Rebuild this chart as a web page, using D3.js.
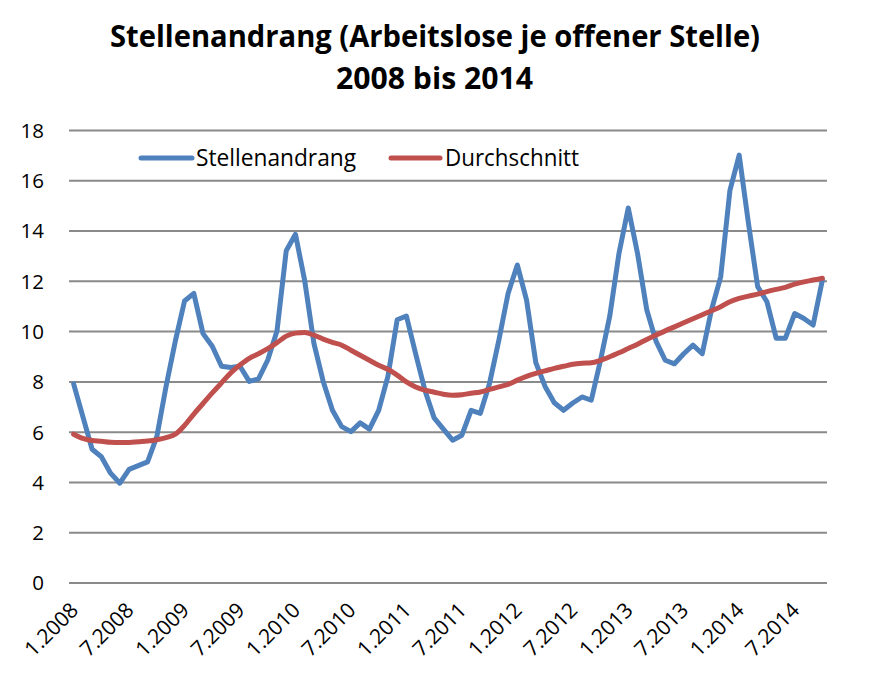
<!DOCTYPE html>
<html>
<head>
<meta charset="utf-8">
<script src="https://cdn.jsdelivr.net/npm/d3@7"></script>
<style>
  html, body { margin: 0; padding: 0; background: #fff; }
  svg { display: block; }
  text { font-family: "Open Sans", "Noto Sans", sans-serif; fill: #000; }
</style>
</head>
<body>
<svg id="chart" width="869" height="699"></svg>
<script>
// ---- data ----
const titleLines = ["Stellenandrang (Arbeitslose je offener Stelle)", "2008 bis 2014"];
const seriesNames = ["Stellenandrang", "Durchschnitt"];
const seriesColors = ["#4F81BD", "#C0504D"];

// monthly categories 1.2008 ... 10.2014
const categories = [];
for (let y = 2008; y <= 2014; y++) {
  for (let m = 1; m <= 12; m++) {
    if (y === 2014 && m > 10) break;
    categories.push(m + "." + y);
  }
}
const tickLabels = ["1.2008","7.2008","1.2009","7.2009","1.2010","7.2010","1.2011","7.2011",
                    "1.2012","7.2012","1.2013","7.2013","1.2014","7.2014"];
const yTicks = [0, 2, 4, 6, 8, 10, 12, 14, 16, 18];

const stellenandrang = [
  7.9, 6.6, 5.3, 5.0, 4.35, 3.95, 4.5, 4.65, 4.8, 5.8, 7.8, 9.6,
  11.2, 11.5, 9.9, 9.4, 8.6, 8.55, 8.6, 8.0, 8.1, 8.85, 10.0, 13.2,
  13.85, 12.0, 9.5, 8.0, 6.85, 6.2, 6.0, 6.35, 6.1, 6.85, 8.2, 10.45,
  10.6, 9.1, 7.65, 6.55, 6.1, 5.66, 5.86, 6.85, 6.73, 7.93, 9.64, 11.5,
  12.63, 11.23, 8.75, 7.8, 7.15, 6.85, 7.14, 7.38, 7.25, 8.84, 10.6, 13.1,
  14.9, 13.1, 10.85, 9.6, 8.84, 8.7, 9.1, 9.44, 9.1, 10.84, 12.16, 15.6,
  17.0, 14.3, 11.77, 11.17, 9.72, 9.72, 10.7, 10.5, 10.24, 12.03
];
const durchschnitt = [
  5.9, 5.73, 5.65, 5.62, 5.58, 5.57, 5.57, 5.6, 5.63, 5.68, 5.76, 5.9,
  6.25, 6.7, 7.12, 7.54, 7.94, 8.34, 8.65, 8.92, 9.1, 9.3, 9.54, 9.8,
  9.92, 9.94, 9.84, 9.68, 9.55, 9.44, 9.24, 9.04, 8.84, 8.64, 8.48, 8.25,
  7.98, 7.78, 7.65, 7.57, 7.49, 7.45, 7.47, 7.53, 7.58, 7.68, 7.78, 7.88,
  8.05, 8.2, 8.32, 8.42, 8.52, 8.6, 8.68, 8.72, 8.74, 8.84, 8.98, 9.14,
  9.31, 9.48, 9.67, 9.84, 10.01, 10.17, 10.33, 10.49, 10.65, 10.81, 10.97, 11.17,
  11.3, 11.39, 11.47, 11.57, 11.66, 11.74, 11.87, 11.96, 12.03, 12.1
];

// ---- layout ----
const svg = d3.select("#chart");
const plot = { left: 69, right: 827, top: 130, bottom: 582.5 };

const x = d3.scaleBand().domain(categories).range([plot.left, plot.right]).padding(0);
const xc = c => x(c) + x.bandwidth() / 2;
const y = d3.scaleLinear().domain([0, 18]).range([plot.bottom, plot.top]);

// title
const title = svg.append("g");
title.append("text")
  .attr("x", 435).attr("y", 47)
  .attr("text-anchor", "middle")
  .attr("font-size", 31).attr("font-weight", 700)
  .attr("textLength", 650).attr("lengthAdjust", "spacingAndGlyphs")
  .text(titleLines[0]);
title.append("text")
  .attr("x", 434.5).attr("y", 89)
  .attr("text-anchor", "middle")
  .attr("font-size", 31).attr("font-weight", 700)
  .attr("textLength", 197).attr("lengthAdjust", "spacingAndGlyphs")
  .text(titleLines[1]);

// gridlines + y axis labels
const yAxis = d3.axisLeft(y).tickValues(yTicks).tickSize(-(plot.right - plot.left)).tickPadding(25);
const gy = svg.append("g").attr("transform", `translate(${plot.left},0)`).call(yAxis);
gy.select(".domain").remove();
gy.selectAll(".tick line").attr("stroke", "#8a8a8a").attr("stroke-width", 2);
gy.selectAll(".tick text")
  .attr("font-size", 20.5)
  .attr("font-family", "'Open Sans', sans-serif")
  .attr("fill", "#000")
  .attr("x", -25)
  .attr("dy", "0.36em");

// x axis labels
const xAxis = d3.axisBottom(x).tickValues(tickLabels).tickSize(0).tickPadding(0);
const gx = svg.append("g").attr("transform", `translate(0,${plot.bottom})`).call(xAxis);
gx.select(".domain").remove();
gx.selectAll(".tick text")
  .attr("font-size", 21)
  .attr("font-family", "'Open Sans', sans-serif")
  .attr("fill", "#000")
  .attr("text-anchor", "end")
  .attr("y", 0).attr("dy", 0)
  .attr("transform", "translate(6,29) rotate(-45)");

// lines
const line = d3.line().x((d, i) => xc(categories[i])).y(d => y(d)).curve(d3.curveLinear);
const smooth = d3.line().x((d, i) => xc(categories[i])).y(d => y(d)).curve(d3.curveMonotoneX);

svg.append("path").datum(stellenandrang)
  .attr("d", line).attr("fill", "none")
  .attr("stroke", seriesColors[0]).attr("stroke-width", 5)
  .attr("stroke-linejoin", "round").attr("stroke-linecap", "round");
svg.append("path").datum(durchschnitt)
  .attr("d", smooth).attr("fill", "none")
  .attr("stroke", seriesColors[1]).attr("stroke-width", 5)
  .attr("stroke-linejoin", "round").attr("stroke-linecap", "round");

// legend
const legend = svg.append("g");
const legendItems = [
  { x1: 141, x2: 192, tx: 196, tl: 160 },
  { x1: 391, x2: 440, tx: 445, tl: 134 }
];
legendItems.forEach((it, k) => {
  legend.append("line")
    .attr("x1", it.x1).attr("x2", it.x2).attr("y1", 158).attr("y2", 158)
    .attr("stroke", seriesColors[k]).attr("stroke-width", 5).attr("stroke-linecap", "round");
  legend.append("text")
    .attr("x", it.tx).attr("y", 166)
    .attr("font-size", 23)
    .attr("textLength", it.tl).attr("lengthAdjust", "spacingAndGlyphs")
    .text(seriesNames[k]);
});
</script>
</body>
</html>
